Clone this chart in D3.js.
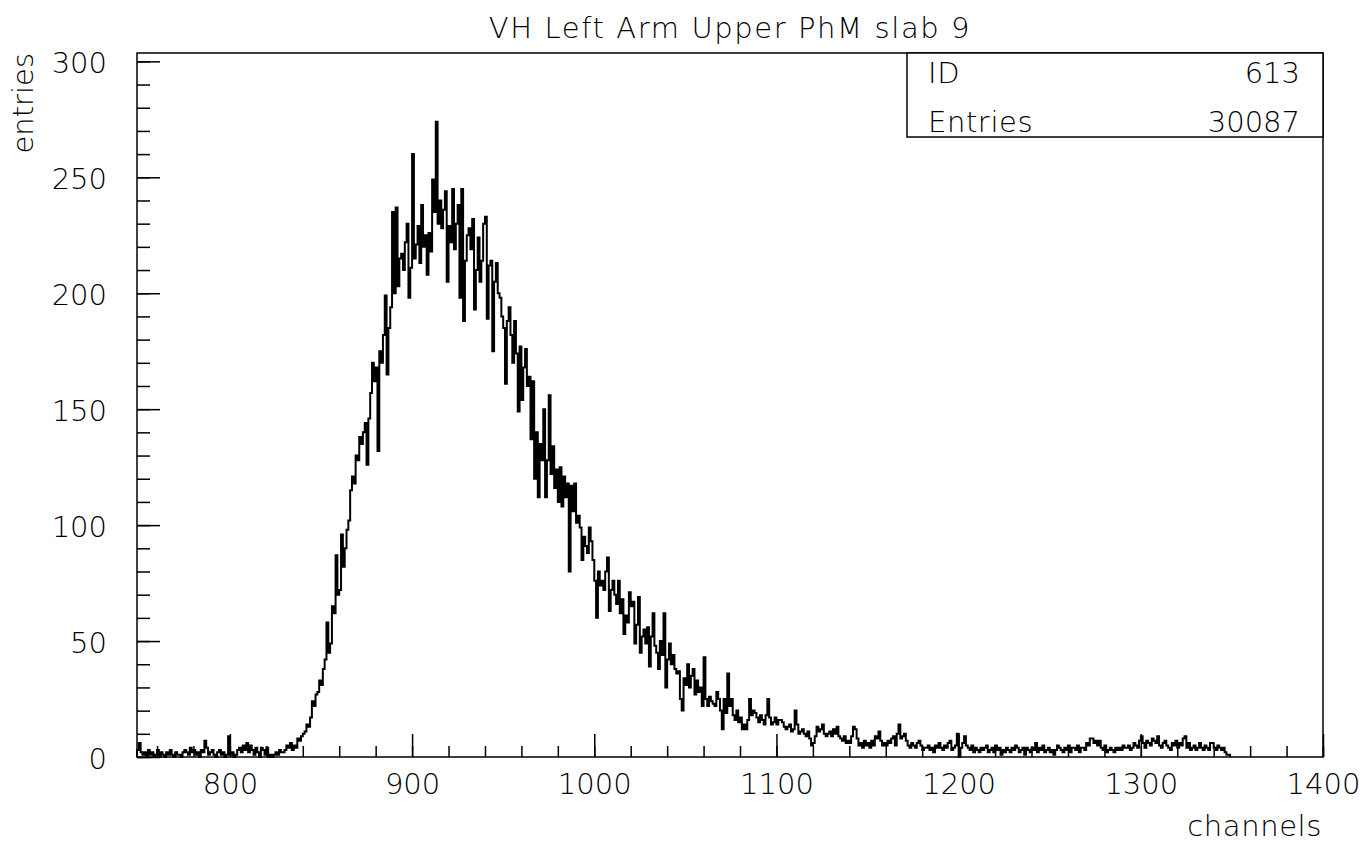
<!DOCTYPE html>
<html>
<head>
<meta charset="utf-8">
<script src="https://cdn.jsdelivr.net/npm/d3@7/dist/d3.min.js"></script>
<style>
  body { margin: 0; background: #fff; }
  text { font-family: "DejaVu Sans", sans-serif; font-weight: 200; fill: #000; }
</style>
</head>
<body>
<svg id="chart"></svg>
<script>
// Canvas size
const width = 1365;
const height = 843;

// Frame of the plot
const frameLeft = 137, frameRight = 1323, frameTop = 53, frameBottom = 757;

// Histogram: first bin low edge and bin width (channels)
const binStart = 749;
const binWidth = 1;

// Axis ranges and tick values
const xDomain = [749, 1400];
const yDomain = [0, 303.6];
const xMajorTicks = [800, 900, 1000, 1100, 1200, 1300, 1400];
const xMinorTicks = d3.range(760, 1401, 20);
const yMajorTicks = [0, 50, 100, 150, 200, 250, 300];
const yMinorTicks = d3.range(0, 301, 10);

// Texts
const title = 'VH Left Arm Upper PhM slab 9';
const xLabel = 'channels';
const yLabel = 'entries';
const statNames = ['ID', 'Entries'];
const statValues = ['613', '30087'];

// Counts per channel (10 channels per row)
const counts = [
  3, 6, 2, 1, 2, 0, 3, 1, 2, 0,
  1, 3, 0, 2, 1, 0, 2, 1, 3, 1,
  0, 2, 1, 1, 0, 2, 3, 2, 1, 4,
  2, 3, 1, 2, 0, 3, 2, 7, 4, 1,
  2, 3, 1, 0, 2, 3, 1, 2, 0, 1,
  9, 1, 2, 0, 1, 3, 4, 2, 5, 3,
  6, 2, 5, 3, 1, 4, 2, 0, 4, 3,
  1, 4, 0, 1, 0, 1, 2, 1, 3, 2,
  2, 3, 5, 4, 6, 3, 5, 4, 8, 7,
  9, 10, 11, 14, 13, 17, 24, 22, 27, 28,
  33, 31, 38, 42, 58, 45, 49, 65, 62, 87,
  70, 72, 96, 82, 90, 98, 102, 115, 121, 118,
  130, 128, 138, 135, 140, 144, 126, 146, 157, 170,
  162, 168, 132, 175, 170, 182, 199, 165, 185, 194,
  235, 200, 237, 203, 215, 217, 210, 222, 230, 198,
  211, 260, 215, 221, 229, 213, 238, 220, 225, 208,
  226, 218, 249, 235, 274, 230, 240, 228, 236, 244,
  205, 229, 222, 245, 219, 230, 238, 198, 245, 188,
  214, 225, 228, 219, 232, 193, 210, 224, 205, 214,
  230, 233, 189, 212, 214, 175, 205, 213, 200, 198,
  190, 185, 161, 188, 194, 182, 170, 188, 174, 149,
  177, 154, 168, 176, 160, 164, 137, 162, 120, 140,
  112, 135, 128, 150, 112, 128, 156, 122, 134, 116,
  124, 110, 125, 108, 121, 112, 118, 80, 117, 106,
  118, 101, 104, 99, 85, 95, 91, 88, 99, 93,
  85, 76, 60, 80, 74, 76, 72, 80, 86, 63,
  72, 76, 70, 66, 76, 62, 68, 53, 61, 58,
  71, 65, 67, 49, 57, 69, 45, 52, 55, 49,
  56, 39, 52, 62, 48, 45, 38, 50, 44, 62,
  30, 42, 49, 40, 44, 38, 36, 37, 25, 20,
  34, 31, 40, 30, 35, 38, 27, 33, 28, 30,
  22, 43, 25, 22, 26, 24, 23, 22, 28, 25,
  20, 12, 25, 19, 36, 22, 25, 18, 16, 20,
  15, 17, 12, 14, 12, 16, 25, 18, 20, 19,
  17, 15, 18, 16, 14, 18, 25, 17, 14, 15,
  17, 14, 16, 16, 15, 13, 12, 13, 14, 11,
  12, 20, 14, 10, 11, 12, 10, 9, 11, 8,
  5, 6, 9, 13, 11, 12, 14, 10, 9, 10,
  11, 9, 12, 10, 13, 9, 8, 7, 9, 6,
  7, 6, 9, 13, 12, 8, 5, 6, 4, 7,
  5, 6, 4, 7, 5, 9, 8, 11, 7, 5,
  6, 5, 7, 6, 8, 9, 5, 10, 14, 8,
  9, 10, 7, 5, 4, 6, 5, 4, 6, 7,
  5, 3, 4, 4, 5, 3, 4, 2, 5, 4,
  6, 4, 3, 5, 4, 6, 7, 3, 4, 5,
  10, 0, 4, 6, 9, 5, 4, 3, 5, 2,
  4, 3, 2, 4, 3, 4, 5, 2, 3, 4,
  2, 5, 3, 4, 1, 3, 2, 4, 3, 2,
  4, 3, 5, 4, 2, 3, 4, 1, 4, 3,
  2, 4, 3, 6, 2, 4, 3, 5, 2, 3,
  4, 2, 3, 1, 3, 5, 4, 3, 2, 4,
  3, 5, 2, 4, 4, 3, 5, 2, 4, 4,
  3, 6, 5, 8, 8, 6, 7, 5, 7, 4,
  3, 5, 2, 3, 4, 3, 2, 4, 3, 4,
  3, 5, 4, 4, 5, 3, 4, 6, 5, 4,
  7, 9, 6, 4, 7, 6, 5, 8, 7, 6,
  9, 5, 4, 6, 7, 5, 4, 3, 6, 5,
  7, 4, 6, 5, 8, 9, 4, 6, 3, 4,
  5, 3, 4, 6, 4, 3, 5, 4, 3, 6,
  6, 4, 3, 5, 4, 3, 4, 2, 1, 1
];

const svg = d3.select('#chart')
    .attr('width', width)
    .attr('height', height);

// Scales
const x = d3.scaleLinear().domain(xDomain).range([frameLeft, frameRight]);
const y = d3.scaleLinear().domain(yDomain).range([frameBottom, frameTop]);

// Histogram as a step line
const points = [{ x: binStart, y: 0 }];
counts.forEach((c, i) => points.push({ x: binStart + i * binWidth, y: c }));
points.push({ x: binStart + counts.length * binWidth, y: 0 });

const line = d3.line()
    .x(d => x(d.x))
    .y(d => y(d.y))
    .curve(d3.curveStepAfter);

svg.append('path')
    .datum(points)
    .attr('d', line)
    .attr('fill', 'none')
    .attr('stroke', '#000')
    .attr('stroke-width', 2);

// Minor ticks (no labels)
const xMinor = svg.append('g').attr('transform', `translate(0, ${frameBottom})`)
    .call(d3.axisBottom(x).tickValues(xMinorTicks).tickSizeInner(-11).tickSizeOuter(0).tickFormat(''));
const yMinor = svg.append('g').attr('transform', `translate(${frameLeft}, 0)`)
    .call(d3.axisLeft(y).tickValues(yMinorTicks).tickSizeInner(-13).tickSizeOuter(0).tickFormat(''));

// Major ticks with labels
const xAxis = svg.append('g').attr('transform', `translate(0, ${frameBottom})`)
    .call(d3.axisBottom(x).tickValues(xMajorTicks).tickFormat(d3.format('d'))
        .tickSizeInner(-23).tickSizeOuter(0).tickPadding(16));
const yAxis = svg.append('g').attr('transform', `translate(${frameLeft}, 0)`)
    .call(d3.axisLeft(y).tickValues(yMajorTicks).tickFormat(d3.format('d'))
        .tickSizeInner(-23).tickSizeOuter(0).tickPadding(30));

[xMinor, yMinor, xAxis, yAxis].forEach(g => {
    g.select('.domain').remove();
    g.selectAll('line').attr('stroke', '#000').attr('stroke-width', 1.5);
    g.selectAll('text').attr('font-size', 29).attr('font-family', null).attr('fill', '#000');
});
yAxis.selectAll('text').attr('dy', '0.38em');

// Frame
svg.append('rect')
    .attr('x', frameLeft).attr('y', frameTop)
    .attr('width', frameRight - frameLeft).attr('height', frameBottom - frameTop)
    .attr('fill', 'none').attr('stroke', '#000').attr('stroke-width', 1.5);

// Title and axis labels
svg.append('text')
    .attr('x', 730).attr('y', 38)
    .attr('text-anchor', 'middle').attr('font-size', 29)
    .attr('letter-spacing', 1.6)
    .text(title);

svg.append('text')
    .attr('x', 1322).attr('y', 836)
    .attr('text-anchor', 'end').attr('font-size', 29)
    .attr('letter-spacing', 0.6)
    .text(xLabel);

svg.append('text')
    .attr('transform', 'translate(33, 53) rotate(-90)')
    .attr('text-anchor', 'end').attr('font-size', 29)
    .text(yLabel);

// Statistics box
const boxLeft = 907, boxBottom = 137;
svg.append('rect')
    .attr('x', boxLeft).attr('y', frameTop)
    .attr('width', frameRight - boxLeft).attr('height', boxBottom - frameTop)
    .attr('fill', '#fff').attr('stroke', '#000').attr('stroke-width', 1.5);

const statRows = [83, 132];
statNames.forEach((name, i) => {
    svg.append('text').attr('x', 928).attr('y', statRows[i])
        .attr('font-size', 29).attr('letter-spacing', 0.6).text(name);
    svg.append('text').attr('x', 1300).attr('y', statRows[i])
        .attr('text-anchor', 'end').attr('font-size', 29).text(statValues[i]);
});
</script>
</body>
</html>
